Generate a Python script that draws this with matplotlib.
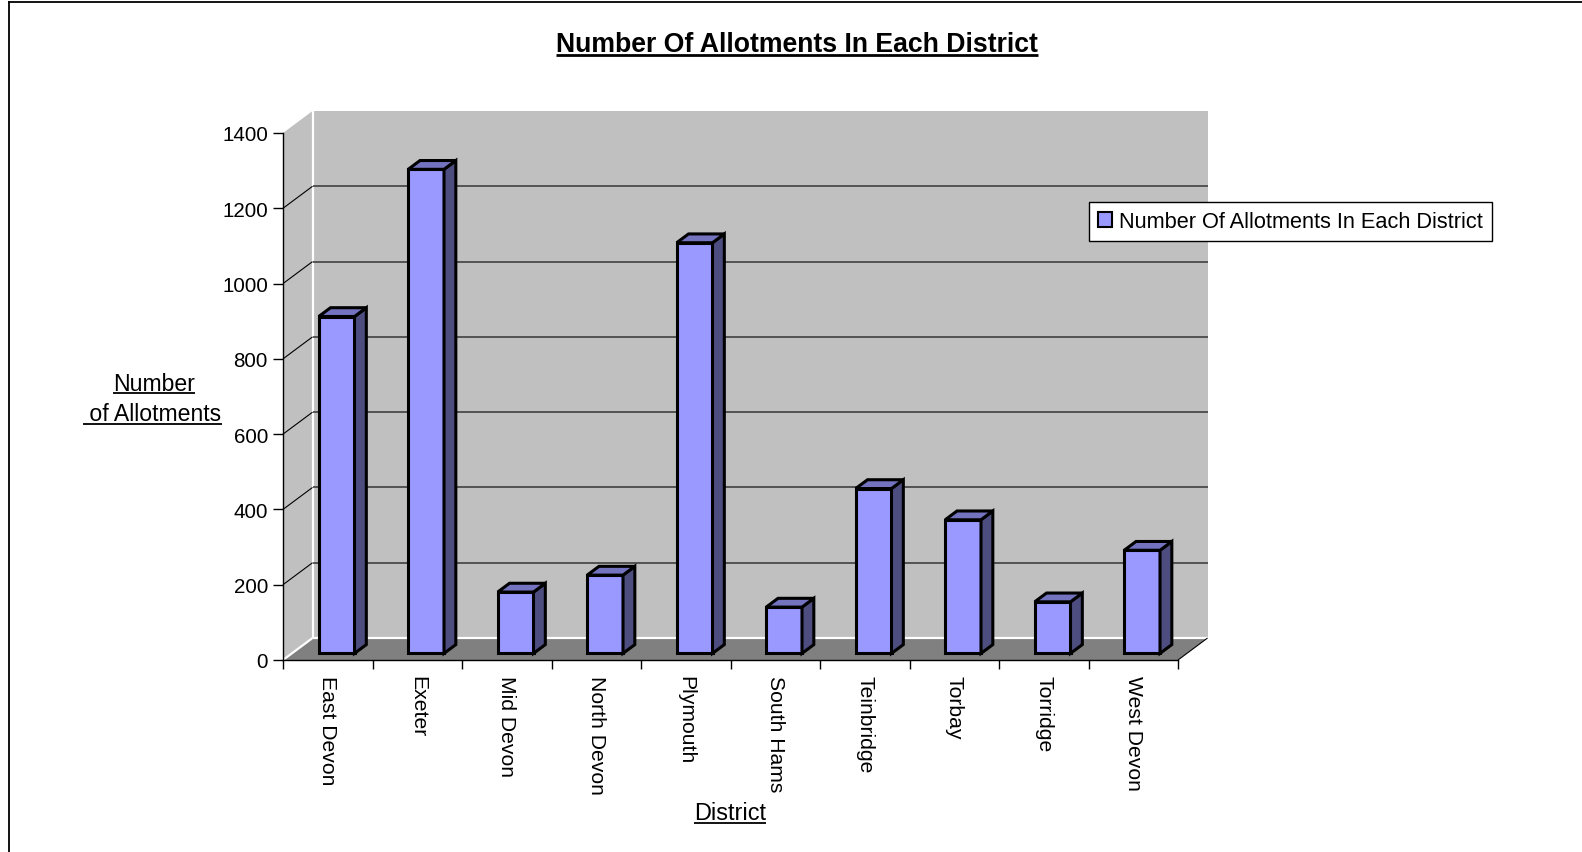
"""
Number of allotments in each Devon district, drawn as an Excel-style
3-D column chart (back wall, side wall, floor and extruded bars).
"""

import matplotlib
matplotlib.use("Agg")
import matplotlib.pyplot as plt
from matplotlib.patches import Polygon, Patch
from matplotlib.lines import Line2D

DISTRICTS = ["East Devon", "Exeter", "Mid Devon", "North Devon", "Plymouth",
             "South Hams", "Teinbridge", "Torbay", "Torridge", "West Devon"]
ALLOTMENTS = [895, 1286, 163, 208, 1091, 123, 438, 355, 137, 274]
Y_TICKS = [0, 200, 400, 600, 800, 1000, 1200, 1400]

TITLE = "Number Of Allotments In Each District"
SERIES_NAME = "Number Of Allotments In Each District"

W_PX, H_PX = 1582, 853
DPI = 100
YMAX = 1400

# depth of the 3-D box, in data units (category units / value units)
DX = 0.33
DY = 58.4

WALL = "#C0C0C0"
FLOOR = "#808080"
FACE = "#9999FF"
SIDE = "#4D4D80"
TOP = "#7373BF"

plt.rcParams["font.family"] = ["Liberation Sans", "DejaVu Sans"]


def fx(px):
    return px / W_PX


def fy(py):
    return 1 - py / H_PX


def P(x, y, z):
    """Project a (category, value, depth) point onto the front plane."""
    return (x + z * DX, y + z * DY)


def poly(ax, pts, fc, ec="none", lw=0, z=1):
    ax.add_patch(Polygon([P(*p) for p in pts], closed=True, fc=fc, ec=ec,
                         lw=lw, joinstyle="miter", clip_on=False, zorder=z))


def seg(ax, a, b, color, lw, z=1.5):
    (x0, y0), (x1, y1) = P(*a), P(*b)
    ax.add_line(Line2D([x0, x1], [y0, y1], color=color, lw=lw,
                       clip_on=False, zorder=z, solid_capstyle="butt"))


def underline(fig, text, y_px, lw=1.3):
    fig.canvas.draw()
    bb = text.get_window_extent(fig.canvas.get_renderer())
    inv = fig.transFigure.inverted()
    (x0, _), (x1, _) = inv.transform([(bb.x0, 0), (bb.x1, 0)])
    fig.add_artist(Line2D([x0, x1], [fy(y_px), fy(y_px)], color="black",
                          lw=lw, solid_capstyle="butt"))


def main():
    fig = plt.figure(figsize=(W_PX / DPI, H_PX / DPI), dpi=DPI)
    n = len(DISTRICTS)

    # front plane of the box: x 283..1178 px, value 0 at y=661 px, 1400 at 134 px
    ax = fig.add_axes([fx(283), fy(661), fx(1178) - fx(283), fy(134) - fy(661)])
    ax.set_xlim(0, n)
    ax.set_ylim(0, YMAX)
    ax.patch.set_visible(False)
    for s in ("top", "right"):
        ax.spines[s].set_visible(False)
    for s in ("left", "bottom"):
        ax.spines[s].set_linewidth(1.0)
        ax.spines[s].set_zorder(5)

    # walls and floor
    poly(ax, [(0, 0, 1), (n, 0, 1), (n, YMAX, 1), (0, YMAX, 1)], WALL)
    poly(ax, [(0, 0, 0), (0, 0, 1), (0, YMAX, 1), (0, YMAX, 0)], WALL)
    poly(ax, [(0, 0, 0), (n, 0, 0), (n, 0, 1), (0, 0, 1)], FLOOR)
    seg(ax, (0, 0, 1), (0, YMAX, 1), "white", 1.6)
    seg(ax, (0, 0, 1), (n, 0, 1), "white", 1.6)
    seg(ax, (0, 0, 0), (0, 0, 1), "white", 1.6)
    seg(ax, (n, 0, 0), (n, 0, 1), "black", 0.8)

    # gridlines on back wall + side wall
    for v in Y_TICKS[1:-1]:
        seg(ax, (0, v, 1), (n, v, 1), "#404040", 1.2)
        seg(ax, (0, v, 0), (0, v, 1), "black", 0.8)

    # bars
    x_pad, z0, z1 = 0.3, 0.3, 0.7
    for i, v in enumerate(ALLOTMENTS):
        a, b = i + x_pad, i + 1 - x_pad
        kw = dict(ec="black", lw=2.2, z=3)
        poly(ax, [(a, 0, z0), (b, 0, z0), (b, v, z0), (a, v, z0)], FACE, **kw)
        poly(ax, [(b, 0, z0), (b, 0, z1), (b, v, z1), (b, v, z0)], SIDE, **kw)
        poly(ax, [(a, v, z0), (b, v, z0), (b, v, z1), (a, v, z1)], TOP, **kw)

    # axes ticks
    ax.set_yticks(Y_TICKS)
    ax.tick_params(axis="y", direction="out", length=7.2, width=1,
                   pad=3.6, labelsize=14.8)
    ax.set_xticks(range(n + 1))
    ax.set_xticklabels([])
    ax.tick_params(axis="x", which="major", direction="out", length=6.5, width=1)
    ax.set_xticks([i + 0.5 for i in range(n)], minor=True)
    ax.set_xticklabels(DISTRICTS, minor=True, rotation=270, fontsize=15.2)
    ax.tick_params(axis="x", which="minor", length=0, pad=11)

    # title and axis titles (underlined, as in the source)
    t = fig.text(fx(797), fy(52), TITLE, ha="center", va="baseline",
                 fontsize=19.2, fontweight="bold")
    underline(fig, t, 55.5, lw=2)
    y1 = fig.text(fx(154), fy(391), "Number", ha="center", va="baseline",
                  fontsize=16.6)
    underline(fig, y1, 393.5)
    y2 = fig.text(fx(152.5), fy(421), " of Allotments", ha="center",
                  va="baseline", fontsize=16.6)
    underline(fig, y2, 425)
    xl = fig.text(fx(730), fy(820), "District", ha="center", va="baseline",
                  fontsize=16.9)
    underline(fig, xl, 823.5)

    # legend
    handle = Patch(fc=FACE, ec="black", lw=1.5)
    leg = fig.legend([handle], [SERIES_NAME], loc="upper left",
                     bbox_to_anchor=(fx(1089), fy(203)), fontsize=15.7,
                     frameon=True, fancybox=False, framealpha=1,
                     edgecolor="black", borderpad=0.42, borderaxespad=0,
                     handlelength=0.65, handleheight=0.65, handletextpad=0.3)
    leg.get_frame().set_linewidth(1.0)

    # outer chart border (top and left edges visible in the source crop)
    fig.add_artist(Line2D([fx(8.5), 1], [fy(3), fy(3)], color="black", lw=1.3))
    fig.add_artist(Line2D([fx(8.5), fx(8.5)], [fy(3), 0], color="black", lw=1.3))

    fig.savefig("out.png", dpi=DPI)


if __name__ == "__main__":
    main()
